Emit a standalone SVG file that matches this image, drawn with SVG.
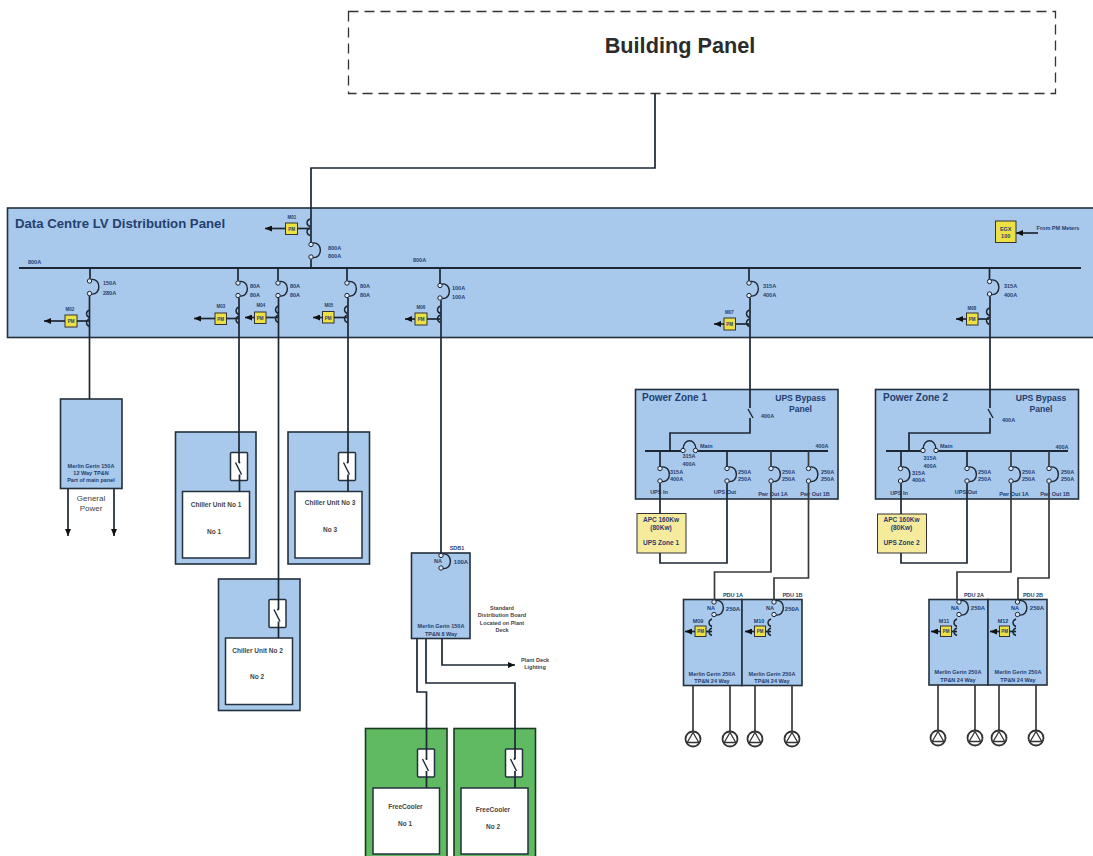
<svg xmlns="http://www.w3.org/2000/svg" xmlns:xlink="http://www.w3.org/1999/xlink" width="1093" height="856" viewBox="0 0 1093 856">
<style>
text{font-family:"Liberation Sans",Arial,sans-serif;font-weight:bold;fill:#24406e;font-size:5.5px}
.c{text-anchor:middle}
.gr{fill:#444}
.m{font-size:4.5px}
.mid{font-size:6.5px}
.pan{fill:#a9c9ec;stroke:#24303c;stroke-width:1.6}
.gpan{fill:#5fba62;stroke:#1c3a22;stroke-width:1.6}
.wh{fill:#fff;stroke:#24303c;stroke-width:1.5}
.ye{fill:#ece045;stroke:#333;stroke-width:1}
.lye{fill:#f6eb9c;stroke:#333;stroke-width:1}
.ln{fill:none;stroke:#1d2733;stroke-width:1.7}
.gl{fill:none;stroke:#3a3a3a;stroke-width:1.7}
.ar{marker-end:url(#a)}
.th{fill:none;stroke:#1d2733;stroke-width:1.4}
</style>
<defs>
<marker id="a" markerUnits="userSpaceOnUse" markerWidth="8" markerHeight="6" refX="7" refY="3" orient="auto"><path d="M0,0L7,3L0,6z" fill="#111"/></marker>
<g id="br"><path class="th" d="M1.500,-1.500C12,-3 12,14.500 1.500,13"/><circle cx="0" cy="0" r="2.200" fill="#dfe9f5" stroke="#1d2733" stroke-width="1"/><circle cx="0" cy="12.500" r="2.200" fill="#dfe9f5" stroke="#1d2733" stroke-width="1"/></g>
<g id="ct"><path class="th" d="M0,0c-4,1.500-4,6 0,7.500M0,9c-4,1.500-4,6 0,7.500"/></g>
<g id="sw"><rect x="-9" y="0" width="17" height="28" rx="1" fill="#fff" stroke="#24303c" stroke-width="1.500"/><path class="th" d="M-4,10L2,22"/><circle cx="0" cy="10" r="0.900" fill="#111"/></g>
<g id="pump"><circle r="7.500" fill="#fff" stroke="#333" stroke-width="1.800"/><path d="M0,-6.500L5.800,3.500H-5.800z" fill="#fff" stroke="#333" stroke-width="1.300"/></g>
</defs>
<rect width="1093" height="856" fill="#fff"/>

<g id="building-panel">
<rect x="348.500" y="11.500" width="707" height="82" fill="#fff" stroke="#333" stroke-width="1.300" stroke-dasharray="10 6"/>
<text class="c" x="680" y="53" style="font-size:21.700px;fill:#2b2b2b">Building Panel</text>
</g>

<g id="lv-panel">
<rect class="pan" x="7.500" y="208" width="1090" height="129.500"/>
<text x="15" y="228" style="font-size:13.200px">Data Centre LV Distribution Panel</text>
<text x="28" y="264">800A</text><text x="413" y="262">800A</text>
<text x="328" y="250">800A</text><text x="328" y="258">800A</text>
<path d="M19,268H1081" stroke="#1d2733" stroke-width="2" fill="none"/>
<use xlink:href="#br" x="311" y="244.500"/>
<use xlink:href="#ct" x="310" y="219"/>
<rect class="ye" x="285.500" y="223" width="12" height="11.500"/>
<text class="c m" x="291.500" y="231">PM</text><text class="c m" x="292" y="219">M01</text>
<text x="103" y="285">150A</text><text x="103" y="295">280A</text>
<use xlink:href="#br" x="89.500" y="281"/><use xlink:href="#ct" x="89.500" y="310"/>
<rect class="ye" x="65" y="315" width="12" height="12"/><text class="c m" x="71" y="323">PM</text><text class="c m" x="70" y="311">M02</text>
<text x="250" y="288">80A</text><text x="250" y="297">80A</text>
<use xlink:href="#br" x="238" y="283"/><use xlink:href="#ct" x="239" y="307"/>
<rect class="ye" x="215" y="313" width="11.500" height="11.500"/><text class="c m" x="220.700" y="321">PM</text><text class="c m" x="221" y="308">M03</text>
<text x="290" y="288">80A</text><text x="290" y="297">80A</text>
<use xlink:href="#br" x="278" y="283"/><use xlink:href="#ct" x="278.500" y="306"/>
<rect class="ye" x="254.500" y="312" width="11.500" height="11.500"/><text class="c m" x="260.200" y="320">PM</text><text class="c m" x="261" y="307">M04</text>
<text x="360" y="288">80A</text><text x="360" y="297">80A</text>
<use xlink:href="#br" x="347" y="283"/><use xlink:href="#ct" x="347.500" y="306"/>
<rect class="ye" x="322.500" y="311.500" width="11.500" height="11.500"/><text class="c m" x="328.200" y="319.500">PM</text><text class="c m" x="329" y="307">M05</text>
<text x="452" y="290">100A</text><text x="452" y="298.500">100A</text>
<use xlink:href="#br" x="440" y="285.500"/><use xlink:href="#ct" x="440.500" y="306"/>
<rect class="ye" x="415" y="313" width="12" height="12"/><text class="c m" x="421" y="321">PM</text><text class="c m" x="421" y="309">M06</text>
<text x="763" y="288">315A</text><text x="763" y="296.500">400A</text>
<use xlink:href="#br" x="749" y="283"/><use xlink:href="#ct" x="749.500" y="310"/>
<rect class="ye" x="724" y="318" width="11.500" height="12"/><text class="c m" x="729.700" y="326">PM</text><text class="c m" x="729.500" y="314">M07</text>
<text x="1004" y="288">315A</text><text x="1004" y="296.500">400A</text>
<use xlink:href="#br" x="989.500" y="281.500"/><use xlink:href="#ct" x="989.500" y="308"/>
<rect class="ye" x="966.500" y="313" width="11.500" height="12"/><text class="c m" x="972.200" y="321">PM</text><text class="c m" x="972" y="310">M08</text>
<rect class="ye" x="995.500" y="221" width="20.500" height="21.500"/>
<text class="c" x="1005.700" y="230.500">EGX</text><text class="c" x="1005.700" y="238">100</text>
<text class="c" x="1058" y="230">From PM Meters</text>
</g>

<g id="general-power">
<rect class="pan" x="60.500" y="399" width="61.500" height="89.500"/>
<text class="c" x="91" y="468">Merlin Gerin 150A</text><text class="c" x="91" y="475">12 Way TP&amp;N</text><text class="c" x="91" y="482">Part of main panel</text>
<text class="c gr" x="91" y="501" style="font-size:8px;font-weight:normal">General</text><text class="c gr" x="91" y="511" style="font-size:8px;font-weight:normal">Power</text>
</g>

<g id="chiller-1">
<rect class="pan" x="175.500" y="432" width="80.500" height="132"/>
<use xlink:href="#sw" x="239.500" y="452.500"/>
<rect class="wh" x="182.500" y="491.500" width="67" height="66.500"/>
<text class="c gr" x="216" y="506.500" style="font-size:6.500px">Chiller Unit No 1</text><text class="c gr" x="214" y="533.500" style="font-size:6.500px">No 1</text>
</g>
<g id="chiller-3">
<rect class="pan" x="288" y="432" width="81.500" height="132"/>
<use xlink:href="#sw" x="347.500" y="452.500"/>
<rect class="wh" x="295" y="491.500" width="67" height="66.500"/>
<text class="c gr" x="330" y="505" style="font-size:6.500px">Chiller Unit No 3</text><text class="c gr" x="330" y="531.500" style="font-size:6.500px">No 3</text>
</g>
<g id="chiller-2">
<rect class="pan" x="218.500" y="579" width="81.500" height="131.500"/>
<use xlink:href="#sw" x="278" y="599.500"/>
<rect class="wh" x="225.500" y="638" width="67" height="66.500"/>
<text class="c gr" x="257.500" y="652.500" style="font-size:6.500px">Chiller Unit No 2</text><text class="c gr" x="257" y="678.500" style="font-size:6.500px">No 2</text>
</g>

<g id="sdb">
<rect class="pan" x="411.500" y="553" width="58.500" height="85.500"/>
<use xlink:href="#br" x="441" y="555.500"/>
<text class="c" x="438" y="563">NA</text><text class="c" x="461" y="564" style="font-size:6px">100A</text>
<text class="c" x="457" y="550">SDB1</text>
<text class="c" x="441" y="628">Merlin Gerin 150A</text><text class="c" x="441" y="636">TP&amp;N 8 Way</text>
<text class="c gr" x="502" y="610">Standard</text><text class="c gr" x="502" y="617">Distribution Board</text><text class="c gr" x="502" y="624.500">Located on Plant</text><text class="c gr" x="502" y="631.500">Deck</text>
<text class="c gr" x="535" y="661.500">Plant Deck</text><text class="c gr" x="535" y="669">Lighting</text>
</g>

<g id="freecooler-1">
<rect class="gpan" x="365.500" y="728.500" width="81.500" height="140"/>
<use xlink:href="#sw" x="426.500" y="749"/>
<rect class="wh" x="373" y="788" width="66.500" height="66"/>
<text class="c gr" x="405.500" y="808.500" style="font-size:6.500px">FreeCooler</text><text class="c gr" x="405" y="825.500" style="font-size:6.500px">No 1</text>
</g>
<g id="freecooler-2">
<rect class="gpan" x="454" y="728.500" width="81.500" height="140"/>
<use xlink:href="#sw" x="514.500" y="749"/>
<rect class="wh" x="461" y="788" width="67" height="66"/>
<text class="c gr" x="493" y="811.500" style="font-size:6.500px">FreeCooler</text><text class="c gr" x="493" y="828.500" style="font-size:6.500px">No 2</text>
</g>

<g id="power-zone-1">
<rect class="pan" x="635.500" y="389.500" width="202.500" height="109.500"/>
<text x="642" y="401" style="font-size:10px">Power Zone 1</text>
<text class="c" x="800.500" y="401" style="font-size:8.600px">UPS Bypass</text><text class="c" x="800.500" y="411.500" style="font-size:8.600px">Panel</text>
<text x="761" y="418">400A</text>
<path d="M645,451H682M697,451H828" stroke="#1d2733" stroke-width="1.800" fill="none"/>
<path class="th" d="M683,449C684,438 695,438 696,449"/><circle cx="683" cy="450.500" r="2.200" fill="#dfe9f5" stroke="#1d2733"/><circle cx="695.500" cy="450.500" r="2.200" fill="#dfe9f5" stroke="#1d2733"/>
<text x="700" y="447.500">Main</text><text class="c" x="689" y="458">315A</text><text class="c" x="689" y="466">400A</text><text class="c" x="822" y="448">400A</text>
<use xlink:href="#br" x="660" y="468.500"/><use xlink:href="#br" x="727" y="468.500"/><use xlink:href="#br" x="771" y="468.500"/><use xlink:href="#br" x="808.500" y="468.500"/>
<text x="670" y="473.500">315A</text><text x="670" y="480.500">400A</text>
<text x="738" y="473.500">250A</text><text x="738" y="480.500">250A</text>
<text x="782" y="473.500">250A</text><text x="782" y="480.500">250A</text>
<text x="821" y="473.500">250A</text><text x="821" y="480.500">250A</text>
<text class="c" x="659" y="494">UPS In</text><text class="c" x="725" y="494">UPS Out</text><text class="c" x="773" y="496">Pwr Out 1A</text><text class="c" x="815" y="495.500">Pwr Out 1B</text>
</g>
<g id="ups-zone-1">
<rect class="lye" x="637" y="513.500" width="49" height="39.500"/>
<text class="c mid" x="661" y="522">APC 160Kw</text><text class="c mid" x="661" y="529.500">(80Kw)</text><text class="c mid" x="661" y="545">UPS Zone 1</text>
</g>

<g id="power-zone-2">
<rect class="pan" x="875.500" y="389.500" width="203" height="109.500"/>
<text x="883" y="401" style="font-size:10px">Power Zone 2</text>
<text class="c" x="1041" y="401" style="font-size:8.600px">UPS Bypass</text><text class="c" x="1041" y="411.500" style="font-size:8.600px">Panel</text>
<text x="1002" y="422">400A</text>
<path d="M886,451H922M937,451H1068" stroke="#1d2733" stroke-width="1.800" fill="none"/>
<path class="th" d="M923,449C924,438 935,438 936,449"/><circle cx="923" cy="450.500" r="2.200" fill="#dfe9f5" stroke="#1d2733"/><circle cx="936" cy="450.500" r="2.200" fill="#dfe9f5" stroke="#1d2733"/>
<text x="940" y="448">Main</text><text class="c" x="930" y="460">315A</text><text class="c" x="930" y="468">400A</text><text class="c" x="1062" y="449">400A</text>
<use xlink:href="#br" x="900.500" y="468.500"/><use xlink:href="#br" x="967" y="468.500"/><use xlink:href="#br" x="1011" y="468.500"/><use xlink:href="#br" x="1049" y="468.500"/>
<text x="912" y="474.500">315A</text><text x="912" y="481.500">400A</text>
<text x="978" y="473.500">250A</text><text x="978" y="480.500">250A</text>
<text x="1022" y="473.500">250A</text><text x="1022" y="480.500">250A</text>
<text x="1061" y="473.500">250A</text><text x="1061" y="480.500">250A</text>
<text class="c" x="899" y="495">UPS In</text><text class="c" x="966" y="494">UPS Out</text><text class="c" x="1014" y="496">Pwr Out 1A</text><text class="c" x="1055" y="495.500">Pwr Out 1B</text>
</g>
<g id="ups-zone-2">
<rect class="lye" x="877.500" y="514" width="49" height="39"/>
<text class="c mid" x="901.500" y="522">APC 160Kw</text><text class="c mid" x="901.500" y="530">(80Kw)</text><text class="c mid" x="901.500" y="545">UPS Zone 2</text>
</g>

<g id="pdu-1a">
<rect class="pan" x="683.500" y="599.500" width="58.500" height="86"/>
<use xlink:href="#br" x="714" y="602"/><use xlink:href="#ct" x="712" y="619"/>
<rect class="ye" x="695" y="626" width="11" height="10.500"/><text class="c m" x="700.500" y="633">PM</text><text class="c" x="698" y="623">M09</text>
<text class="c" x="711" y="610">NA</text><text class="c" x="733" y="611" style="font-size:6px">250A</text><text class="c" x="733" y="596.500">PDU 1A</text>
<text class="c" x="712" y="675.500">Merlin Gerin 250A</text><text class="c" x="712" y="683">TP&amp;N 24 Way</text>
<use xlink:href="#pump" x="693" y="739"/><use xlink:href="#pump" x="730" y="739"/>
</g>
<g id="pdu-1b">
<rect class="pan" x="742" y="599.500" width="60" height="86"/>
<use xlink:href="#br" x="774" y="602"/><use xlink:href="#ct" x="771" y="619"/>
<rect class="ye" x="754.500" y="626" width="11" height="10.500"/><text class="c m" x="760" y="633">PM</text><text class="c" x="759" y="623">M10</text>
<text class="c" x="770" y="610">NA</text><text class="c" x="792" y="611" style="font-size:6px">250A</text><text class="c" x="792.500" y="596.500">PDU 1B</text>
<text class="c" x="772" y="675.500">Merlin Gerin 250A</text><text class="c" x="772" y="683">TP&amp;N 24 Way</text>
<use xlink:href="#pump" x="755" y="739"/><use xlink:href="#pump" x="792" y="739"/>
</g>
<g id="pdu-2a">
<rect class="pan" x="929" y="599.500" width="59" height="85.500"/>
<use xlink:href="#br" x="959" y="602"/><use xlink:href="#ct" x="957" y="619"/>
<rect class="ye" x="940.500" y="626" width="11" height="10.500"/><text class="c m" x="946" y="633">PM</text><text class="c" x="944" y="623">M11</text>
<text class="c" x="955" y="610">NA</text><text class="c" x="978" y="610" style="font-size:6px">250A</text><text class="c" x="974" y="596.500">PDU 2A</text>
<text class="c" x="958" y="674">Merlin Gerin 250A</text><text class="c" x="958" y="682">TP&amp;N 24 Way</text>
<use xlink:href="#pump" x="938" y="738"/><use xlink:href="#pump" x="975" y="738"/>
</g>
<g id="pdu-2b">
<rect class="pan" x="988" y="599.500" width="59" height="85.500"/>
<use xlink:href="#br" x="1017.500" y="602"/><use xlink:href="#ct" x="1016" y="619"/>
<rect class="ye" x="999.500" y="626" width="10" height="10.500"/><text class="c m" x="1004.500" y="633">PM</text><text class="c" x="1003" y="623">M12</text>
<text class="c" x="1015" y="610">NA</text><text class="c" x="1037" y="610" style="font-size:6px">250A</text><text class="c" x="1033" y="596.500">PDU 2B</text>
<text class="c" x="1018" y="674">Merlin Gerin 250A</text><text class="c" x="1018" y="682">TP&amp;N 24 Way</text>
<use xlink:href="#pump" x="999" y="738"/><use xlink:href="#pump" x="1036" y="738"/>
</g>

<g id="connectors">
<path class="ln" d="M655,93V168H311V242.300M311,259.200V268"/>
<path class="ln ar" d="M285.500,228.500H265"/><path class="ln" d="M297.500,228.500H310"/>
<path class="ln" d="M90,268V278.800M89.500,296V399"/><path class="ln ar" d="M65,321H44"/><path class="ln" d="M77,321H89"/>
<path class="ln" d="M238,268V280.800M239,297.700V462.500M239.500,474.500V491.500"/><path class="ln ar" d="M215,318.500H194"/><path class="ln" d="M226.500,318.500H239"/>
<path class="ln" d="M278,268V280.800M278.500,297.700V609.500M278.500,621.500V638"/><path class="ln ar" d="M254.500,317.500H245"/><path class="ln" d="M266,317.500H278"/>
<path class="ln" d="M347,268V280.800M348,297.700V462.500M348,474.500V491.500"/><path class="ln ar" d="M322.500,317.500H313"/><path class="ln" d="M334,317.500H347"/>
<path class="ln" d="M440,268V283.300M441,300.200V553.300"/><path class="ln ar" d="M415,319H405"/><path class="ln" d="M427,319H440"/>
<path class="ln" d="M749,268V280.800M750,297.700V408M750,418V433H670V451"/><path class="th" d="M748,409L753,418"/><path class="ln ar" d="M724,324H714"/><path class="ln" d="M735.500,324H749"/>
<path class="ln" d="M989.500,268V279.300M990,296.200V408M990,418V433H909V451"/><path class="th" d="M988,409L993,418"/><path class="ln ar" d="M966.500,319H956"/><path class="ln" d="M978,319H989"/>
<path class="ln ar" d="M1038,233H1016"/>
<path class="ln ar" d="M68,488.500V536"/><path class="ln ar" d="M114,488.500V536"/>
<path class="ln" d="M417,638.500V692H426.500V759M426.500,771V788"/>
<path class="ln" d="M426,638.500V683H515V759M515,771V788"/>
<path class="ln ar" d="M442,638.500V665H515"/>
<path class="ln" d="M660,451V466.300M660,483.200V513.500"/>
<path class="ln" d="M660,553V563H727V483.200M727,466.300V451"/>
<path class="gl" d="M771,451V466.300M771,483.200V572H714.500V599.500"/>
<path class="gl" d="M808.500,451V466.300M808.500,483.200V578H774V599.500"/>
<path class="ln" d="M901,451V466.300M901,483.200V514"/>
<path class="ln" d="M901,553V563H967V483.200M967,466.300V451"/>
<path class="gl" d="M1011,451V466.300M1011,483.200V572H957V599.500"/>
<path class="gl" d="M1049,451V466.300M1049,483.200V578H1018V599.500"/>
<path class="gl" d="M693,685.500V731.500M730,685.500V731.500M755,685.500V731.500M792,685.500V731.500"/>
<path class="gl" d="M938,685V730.500M975,685V730.500M999,685V730.500M1036,685V730.500"/>
<path class="ln ar" d="M695,631.500H685"/><path class="ln" d="M706,631.500H712"/>
<path class="ln ar" d="M754.500,631.500H745"/><path class="ln" d="M765.500,631.500H771"/>
<path class="ln ar" d="M940.500,631.500H931"/><path class="ln" d="M951.500,631.500H957"/>
<path class="ln ar" d="M999.500,631.500H990"/><path class="ln" d="M1009.500,631.500H1016"/>
</g>
</svg>
